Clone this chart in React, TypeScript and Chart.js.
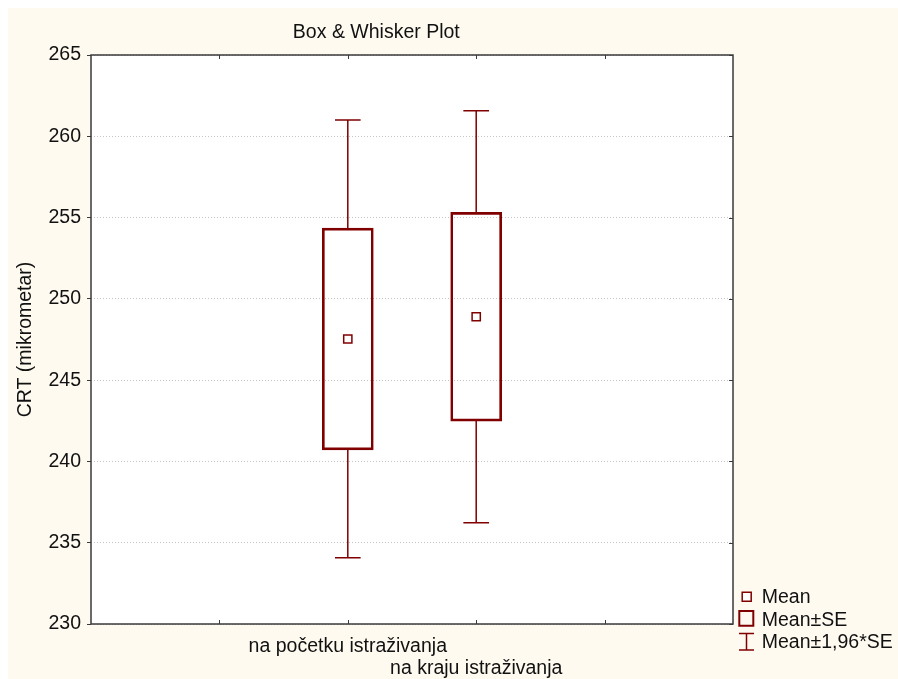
import React, { useEffect, useRef } from "react";
import { Chart, registerables } from "chart.js";

Chart.register(...registerables);

// ---- data ----
const categories = ["na početku istraživanja", "na kraju istraživanja"];
const categoryPositions = [2, 3];
const means = [247.53, 248.9];
const seLow = [240.71, 242.48];
const seHigh = [254.35, 255.32];
const ciLow = [234.08, 236.23];
const ciHigh = [261.0, 261.57];
const yMin = 230;
const yMax = 265;
const yStep = 5;
const xMin = 0;
const xMax = 5;
const xTickPositions = [1, 2, 3, 4];
const legendLabels = ["Mean", "Mean±SE", "Mean±1,96*SE"];
const chartTitle = "Box & Whisker Plot";
const yAxisTitle = "CRT (mikrometar)";

// ---- styles ----
const FONT = "'Liberation Sans', Arial, Helvetica, sans-serif";
const FONT_SIZE = 19.5;
const RED = "#800000";
const CREAM = "#fefaf0";
const FRAME = "#3a3a3a";
const CANVAS_W = 890;
const CANVAS_H = 671;

const capHalf = 0.1;

function buildWhiskers() {
  const pts: { x: number; y: number | null }[] = [];
  categoryPositions.forEach((c, i) => {
    pts.push(
      { x: c, y: seHigh[i] },
      { x: c, y: ciHigh[i] },
      { x: c, y: null },
      { x: c - capHalf, y: ciHigh[i] },
      { x: c + capHalf, y: ciHigh[i] },
      { x: c, y: null },
      { x: c, y: seLow[i] },
      { x: c, y: ciLow[i] },
      { x: c, y: null },
      { x: c - capHalf, y: ciLow[i] },
      { x: c + capHalf, y: ciLow[i] },
      { x: c, y: null }
    );
  });
  return pts;
}

const decorPlugin = {
  id: "decor",
  beforeDraw(chart: any) {
    const { ctx, chartArea: a, width, height } = chart;
    ctx.save();
    ctx.fillStyle = CREAM;
    ctx.fillRect(0, 0, width, height);
    ctx.fillStyle = "#ffffff";
    ctx.fillRect(a.left, a.top, a.right - a.left, a.bottom - a.top);
    ctx.restore();
  },
  afterDraw(chart: any) {
    const { ctx, chartArea: a, scales } = chart;
    const xs = scales.x;
    const ys = scales.y;
    ctx.save();
    // frame
    ctx.strokeStyle = FRAME;
    ctx.lineWidth = 1.5;
    ctx.strokeRect(a.left, a.top, a.right - a.left, a.bottom - a.top);
    // inward tick marks
    ctx.lineWidth = 1;
    ctx.beginPath();
    xTickPositions.forEach((v) => {
      const px = Math.round(xs.getPixelForValue(v)) + 0.5;
      ctx.moveTo(px, a.top);
      ctx.lineTo(px, a.top + 4);
      ctx.moveTo(px, a.bottom);
      ctx.lineTo(px, a.bottom - 4);
    });
    for (let v = yMin; v <= yMax; v += yStep) {
      const py = Math.round(ys.getPixelForValue(v)) + 0.5;
      ctx.moveTo(a.right, py);
      ctx.lineTo(a.right - 4, py);
    }
    ctx.stroke();

    // title
    ctx.fillStyle = "#111";
    ctx.font = `${FONT_SIZE}px ${FONT}`;
    ctx.textAlign = "center";
    ctx.textBaseline = "alphabetic";
    ctx.fillText(chartTitle, 368.3, 30.3);

    // legend
    const lx = a.right;
    const ly = a.bottom;
    ctx.textAlign = "left";
    ctx.fillText(legendLabels[0], lx + 28.7, ly - 20.7);
    ctx.fillText(legendLabels[1], lx + 28.7, ly + 1.7);
    ctx.fillText(legendLabels[2], lx + 28.7, ly + 23.7);

    ctx.strokeStyle = RED;
    ctx.fillStyle = "#ffffff";
    // mean icon
    ctx.lineWidth = 1.5;
    ctx.beginPath();
    ctx.rect(lx + 13.7 - 4.5, ly - 27.2 - 4.5, 9, 9);
    ctx.fill();
    ctx.stroke();
    // SE icon
    ctx.lineWidth = 2;
    ctx.beginPath();
    ctx.rect(lx + 6.3, ly - 13, 14, 14.7);
    ctx.stroke();
    // CI icon
    ctx.lineWidth = 1.5;
    ctx.beginPath();
    const cx = lx + 13.5;
    ctx.moveTo(lx + 6, ly + 9.5);
    ctx.lineTo(lx + 21, ly + 9.5);
    ctx.moveTo(cx, ly + 9.5);
    ctx.lineTo(cx, ly + 26);
    ctx.moveTo(lx + 6, ly + 26);
    ctx.lineTo(lx + 21, ly + 26);
    ctx.stroke();
    ctx.restore();
  },
};

export default function App() {
  const canvasRef = useRef<HTMLCanvasElement | null>(null);

  useEffect(() => {
    if (!canvasRef.current) return;
    const chart = new Chart(canvasRef.current, {
      type: "bar",
      data: {
        datasets: [
          {
            type: "scatter",
            label: legendLabels[0],
            data: categoryPositions.map((c, i) => ({ x: c, y: means[i] })),
            pointStyle: "rect",
            pointRadius: 5.8,
            pointBorderWidth: 1.5,
            borderColor: RED,
            backgroundColor: "#ffffff",
            order: 0,
          } as any,
          {
            type: "bar",
            label: legendLabels[1],
            data: categoryPositions.map((c, i) => ({ x: c, y: [seLow[i], seHigh[i]] })),
            backgroundColor: "rgba(255,255,255,0)",
            borderColor: RED,
            borderWidth: 2,
            borderSkipped: false,
            barThickness: 51,
            order: 2,
          } as any,
          {
            type: "line",
            label: legendLabels[2],
            data: buildWhiskers(),
            borderColor: RED,
            borderWidth: 1.5,
            pointRadius: 0,
            spanGaps: false,
            fill: false,
            order: 1,
          } as any,
        ],
      },
      options: {
        animation: false,
        responsive: false,
        maintainAspectRatio: false,
        layout: { padding: { left: 0, top: 47, right: 165, bottom: 0 } },
        plugins: {
          legend: { display: false },
          title: { display: false },
          tooltip: { enabled: false },
        },
        events: [],
        scales: {
          x: {
            type: "linear",
            min: xMin,
            max: xMax,
            offset: false,
            grid: { display: false, drawTicks: false, offset: false },
            border: { display: false },
            afterBuildTicks: (s: any) => {
              s.ticks = categoryPositions.map((v) => ({ value: v }));
            },
            afterFit: (s: any) => {
              s.height = 55;
            },
            ticks: {
              autoSkip: false,
              maxRotation: 0,
              minRotation: 0,
              padding: 12,
              color: "#111",
              font: { family: FONT, size: FONT_SIZE, lineHeight: 1.1 },
              callback: (value: any) => {
                const idx = categoryPositions.indexOf(Number(value));
                if (idx === 0) return categories[0];
                if (idx === 1) return ["", categories[1]];
                return "";
              },
            },
          },
          y: {
            type: "linear",
            min: yMin,
            max: yMax,
            grid: {
              color: "#c4c4c4",
              lineWidth: 1,
              drawTicks: true,
              tickLength: 4,
              tickColor: FRAME,
              tickBorderDash: [],
              tickWidth: 1,
            },
            border: { display: false, dash: [1, 2] },
            afterFit: (s: any) => {
              s.width = 83;
            },
            ticks: {
              stepSize: yStep,
              padding: 6,
              color: "#111",
              font: { family: FONT, size: FONT_SIZE },
            },
            title: {
              display: true,
              text: yAxisTitle,
              color: "#111",
              font: { family: FONT, size: FONT_SIZE },
              padding: { top: 6, bottom: 0 },
            },
          },
        },
      },
      plugins: [decorPlugin],
    } as any);
    return () => chart.destroy();
  }, []);

  return (
    <div style={{ position: "fixed", left: 8, top: 8, width: CANVAS_W, height: CANVAS_H }}>
      <canvas
        ref={canvasRef}
        width={CANVAS_W}
        height={CANVAS_H}
        style={{ display: "block", width: CANVAS_W, height: CANVAS_H }}
      />
    </div>
  );
}
